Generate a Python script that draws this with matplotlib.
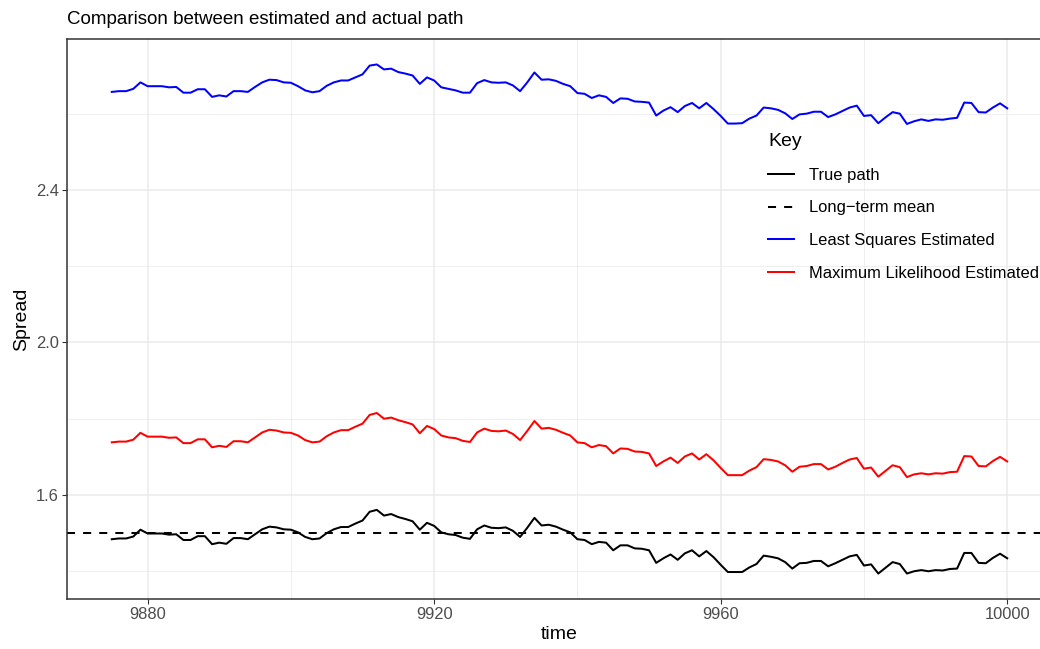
import numpy as np
import matplotlib.pyplot as plt
from matplotlib.lines import Line2D

plt.rcParams['font.family'] = ['Liberation Sans', 'DejaVu Sans']

# -----------------------------
# Datos
# -----------------------------
time = np.arange(9875, 10001)   # un punto por unidad de tiempo
long_term_mean = 1.5

true_path = [
    1.484, 1.486, 1.486, 1.491, 1.509, 1.499, 1.499, 1.499, 1.496, 1.497,
    1.482, 1.482, 1.492, 1.492, 1.471, 1.475, 1.472, 1.487, 1.487, 1.484,
    1.497, 1.510, 1.517, 1.515, 1.510, 1.509, 1.502, 1.490, 1.484, 1.486,
    1.500, 1.510, 1.516, 1.516, 1.525, 1.533, 1.556, 1.561, 1.546, 1.550,
    1.542, 1.537, 1.531, 1.509, 1.527, 1.519, 1.502, 1.497, 1.495, 1.488,
    1.485, 1.510, 1.520, 1.514, 1.513, 1.515, 1.506, 1.490, 1.514, 1.540,
    1.520, 1.522, 1.517, 1.509, 1.502, 1.484, 1.482, 1.471, 1.477, 1.475,
    1.455, 1.468, 1.468, 1.460, 1.459, 1.455, 1.422, 1.434, 1.444, 1.430,
    1.447, 1.455, 1.439, 1.453, 1.437, 1.417, 1.398, 1.398, 1.398, 1.410,
    1.419, 1.441, 1.438, 1.434, 1.424, 1.407, 1.421, 1.422, 1.427, 1.427,
    1.413, 1.421, 1.430, 1.439, 1.443, 1.415, 1.418, 1.394, 1.409, 1.424,
    1.419, 1.394, 1.400, 1.403, 1.400, 1.403, 1.402, 1.406, 1.407, 1.448,
    1.448, 1.422, 1.421, 1.435, 1.446, 1.434,
]

ls_est = [
    2.657, 2.659, 2.659, 2.665, 2.682, 2.672, 2.672, 2.672, 2.669, 2.670,
    2.655, 2.655, 2.664, 2.664, 2.644, 2.648, 2.645, 2.659, 2.659, 2.657,
    2.670, 2.682, 2.689, 2.688, 2.682, 2.681, 2.672, 2.661, 2.656, 2.659,
    2.673, 2.682, 2.687, 2.687, 2.695, 2.703, 2.726, 2.729, 2.716, 2.718,
    2.709, 2.705, 2.700, 2.678, 2.695, 2.687, 2.669, 2.665, 2.661, 2.655,
    2.655, 2.680, 2.688, 2.682, 2.681, 2.682, 2.674, 2.659, 2.682, 2.708,
    2.689, 2.690, 2.686, 2.678, 2.672, 2.654, 2.652, 2.641, 2.648, 2.644,
    2.628, 2.640, 2.639, 2.632, 2.631, 2.629, 2.595, 2.608, 2.617, 2.604,
    2.620, 2.628, 2.614, 2.628, 2.612, 2.594, 2.574, 2.574, 2.575, 2.587,
    2.595, 2.616, 2.614, 2.610, 2.601, 2.586, 2.598, 2.600, 2.605, 2.605,
    2.591, 2.598, 2.607, 2.616, 2.621, 2.594, 2.596, 2.575, 2.590, 2.604,
    2.600, 2.573, 2.580, 2.585, 2.581, 2.585, 2.584, 2.587, 2.589, 2.629,
    2.628, 2.604, 2.603, 2.616, 2.627, 2.614,
]

ml_est = [
    1.738, 1.740, 1.740, 1.745, 1.763, 1.753, 1.753, 1.753, 1.750, 1.751,
    1.736, 1.736, 1.746, 1.746, 1.725, 1.729, 1.726, 1.741, 1.741, 1.738,
    1.751, 1.764, 1.771, 1.769, 1.764, 1.763, 1.756, 1.744, 1.738, 1.740,
    1.754, 1.764, 1.770, 1.770, 1.779, 1.787, 1.810, 1.815, 1.800, 1.803,
    1.796, 1.791, 1.785, 1.762, 1.781, 1.773, 1.756, 1.751, 1.749, 1.742,
    1.739, 1.764, 1.774, 1.768, 1.767, 1.769, 1.760, 1.744, 1.768, 1.794,
    1.774, 1.776, 1.771, 1.763, 1.756, 1.738, 1.736, 1.725, 1.731, 1.728,
    1.709, 1.722, 1.721, 1.714, 1.713, 1.709, 1.676, 1.688, 1.698, 1.684,
    1.701, 1.709, 1.693, 1.707, 1.691, 1.671, 1.652, 1.652, 1.652, 1.664,
    1.673, 1.694, 1.692, 1.688, 1.678, 1.661, 1.674, 1.676, 1.681, 1.681,
    1.667, 1.674, 1.684, 1.693, 1.697, 1.669, 1.672, 1.648, 1.663, 1.678,
    1.673, 1.647, 1.654, 1.657, 1.654, 1.657, 1.656, 1.660, 1.661, 1.702,
    1.701, 1.676, 1.675, 1.689, 1.700, 1.688,
]

labels = ["True path", "Long\u2212term mean", "Least Squares Estimated",
          "Maximum Likelihood Estimated"]
x_ticks = [9880, 9920, 9960, 10000]
x_minor = [9900, 9940, 9980]
y_ticks = [1.6, 2.0, 2.4]
y_minor = [1.4, 1.8, 2.2, 2.6]

# -----------------------------
# Figura
# -----------------------------
fig = plt.figure(figsize=(10.4, 6.49), dpi=100)
# el panel sigue más allá del borde derecho (imagen recortada)
ax = fig.add_axes([67 / 1040, 1 - 599 / 649, 985 / 1040, 560 / 649])

lw = 1.45
ax.plot(time, ls_est, color='#0000FF', lw=lw)
ax.plot(time, ml_est, color='#FF0000', lw=lw)
ax.plot(time, true_path, color='black', lw=lw)
ax.axhline(long_term_mean, color='black', lw=lw, dashes=(4, 4))

# límites con expansión del 5% (como ggplot)
allv = np.concatenate([true_path, ls_est, ml_est])
lo, hi = allv.min(), allv.max()
ax.set_ylim(lo - 0.05 * (hi - lo), hi + 0.05 * (hi - lo))
xr = time[-1] - time[0]
ax.set_xlim(time[0] - 0.05 * xr, time[-1] + 0.05 * xr)

ax.set_xticks(x_ticks)
ax.set_xticks(x_minor, minor=True)
ax.set_yticks(y_ticks)
ax.set_yticks(y_minor, minor=True)
ax.set_yticklabels([f"{v:.1f}" for v in y_ticks])
ax.grid(which='major', color='#EBEBEB', lw=1.1)
ax.grid(which='minor', color='#EBEBEB', lw=0.55)
ax.set_axisbelow(True)
ax.tick_params(which='major', length=3.3, width=0.8, color='#333333',
               labelsize=11.9, labelcolor='#4D4D4D', pad=2.5)
ax.tick_params(which='minor', length=0)
for s in ax.spines.values():
    s.set_color('#333333')
    s.set_linewidth(1.1)

ax.set_xlabel("time", fontsize=14, labelpad=3)
ax.set_ylabel("Spread", fontsize=14, labelpad=4)
fig.text(67 / 1040, 1 - 24 / 649, "Comparison between estimated and actual path",
         fontsize=13.5, va='baseline', ha='left')

handles = [
    Line2D([], [], color='black', lw=lw),
    Line2D([], [], color='black', lw=lw, dashes=(4, 4)),
    Line2D([], [], color='#0000FF', lw=lw),
    Line2D([], [], color='#FF0000', lw=lw),
]
leg = ax.legend(handles, labels, title="Key", loc='upper left',
                bbox_to_anchor=(768 / 1040, 1 - 133 / 649),
                bbox_transform=fig.transFigure, frameon=False,
                fontsize=11.9, title_fontsize=14, alignment='left',
                borderpad=0, borderaxespad=0, handlelength=1.6,
                handletextpad=0.9, labelspacing=1.07)

fig.savefig("out.png", dpi=100)
